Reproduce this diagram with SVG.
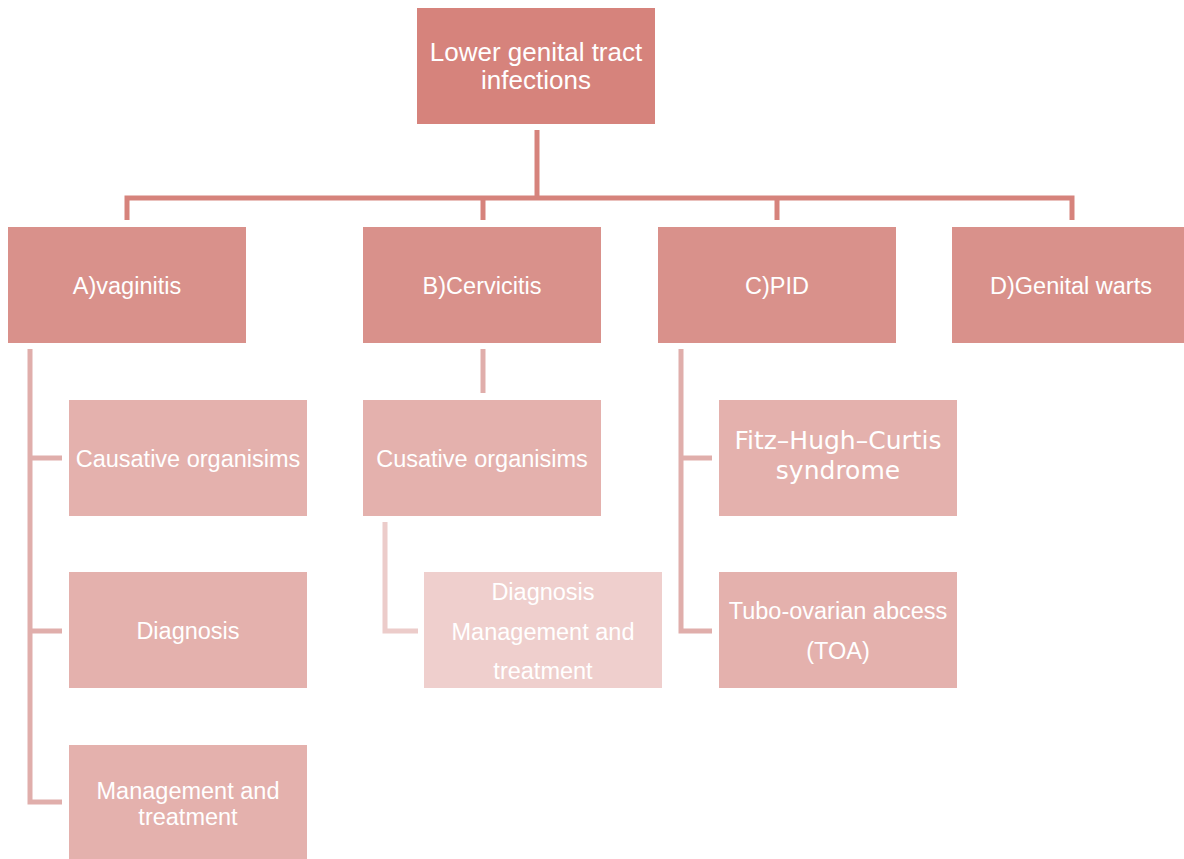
<svg xmlns="http://www.w3.org/2000/svg" width="1184" height="859" viewBox="0 0 1184 859">
<style>
.t{font-family:"Liberation Sans",Arial,sans-serif;font-size:23.5px;fill:#ffffff;text-anchor:middle}
.tt{font-size:26px}
.tf{font-family:"DejaVu Sans",sans-serif;font-size:25px;fill:#ffffff;text-anchor:middle}
.top{fill:#d6837c}
.l1{fill:#d9918b}
.l2{fill:#e4b1ad}
.l3{fill:#efcfcd}
.c0{stroke:#d6837c;stroke-width:5;fill:none}
.c1{stroke:#e0aeab;stroke-width:5;fill:none}
.c2{stroke:#ecccca;stroke-width:5;fill:none}
</style>
<rect width="1184" height="859" fill="#ffffff"/>
<g id="connectors">
<path class="c0" d="M537 130V198"/>
<path class="c0" d="M127 220V198H1072V220"/>
<path class="c0" d="M483 198V220"/>
<path class="c0" d="M777 198V220"/>
<path class="c1" d="M30 349V802H62"/>
<path class="c1" d="M30 458H62M30 631H62"/>
<path class="c1" d="M483 349V393"/>
<path class="c2" d="M385 522V631H418"/>
<path class="c1" d="M681 349V631H712"/>
<path class="c1" d="M681 458H712"/>
</g>
<g id="n-root"><rect class="top" x="417" y="8" width="238" height="116"/><text class="t tt" x="536" y="61">Lower genital tract</text><text class="t tt" x="536" y="89">infections</text></g>
<g id="n-a"><rect class="l1" x="8" y="227" width="238" height="116"/><text class="t" x="127" y="294">A)vaginitis</text></g>
<g id="n-b"><rect class="l1" x="363" y="227" width="238" height="116"/><text class="t" x="482" y="294">B)Cervicitis</text></g>
<g id="n-c"><rect class="l1" x="658" y="227" width="238" height="116"/><text class="t" x="777" y="294">C)PID</text></g>
<g id="n-d"><rect class="l1" x="952" y="227" width="238" height="116"/><text class="t" x="1071" y="294">D)Genital warts</text></g>
<g id="n-a1"><rect class="l2" x="69" y="400" width="238" height="116"/><text class="t" x="188" y="467">Causative organisims</text></g>
<g id="n-a2"><rect class="l2" x="69" y="572" width="238" height="116"/><text class="t" x="188" y="639">Diagnosis</text></g>
<g id="n-a3"><rect class="l2" x="69" y="745" width="238" height="116"/><text class="t" x="188" y="799">Management and</text><text class="t" x="188" y="825">treatment</text></g>
<g id="n-b1"><rect class="l2" x="363" y="400" width="238" height="116"/><text class="t" x="482" y="467">Cusative organisims</text></g>
<g id="n-b2"><rect class="l3" x="424" y="572" width="238" height="116"/><text class="t" x="543" y="600">Diagnosis</text><text class="t" x="543" y="640">Management and</text><text class="t" x="543" y="679">treatment</text></g>
<g id="n-c1"><rect class="l2" x="719" y="400" width="238" height="116"/><text class="tf" x="838" y="449">Fitz–Hugh–Curtis</text><text class="tf" x="838" y="479">syndrome</text></g>
<g id="n-c2"><rect class="l2" x="719" y="572" width="238" height="116"/><text class="t" x="838" y="619">Tubo-ovarian abcess</text><text class="t" x="838" y="659">(TOA)</text></g>
</svg>
